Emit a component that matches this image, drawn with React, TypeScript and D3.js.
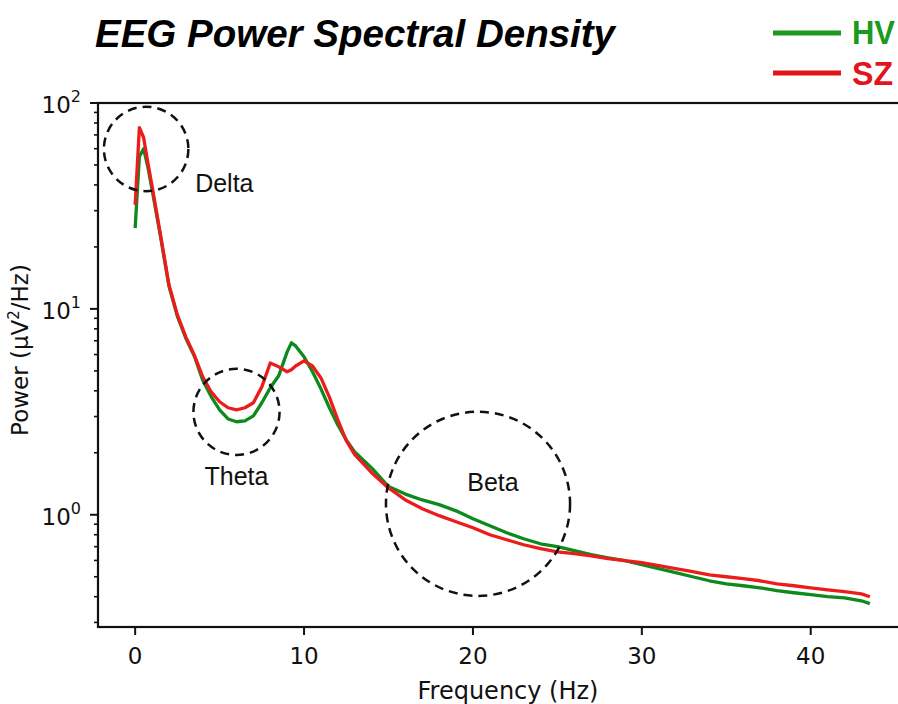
import * as d3 from "d3";

// frequency bins (Hz)
const freqs = [
  0, 0.25, 0.5, 0.75, 1, 1.5, 2, 2.5, 3, 3.5, 4, 4.5, 5, 5.5, 6, 6.5, 7, 7.5, 8, 8.5, 9, 9.25, 9.5, 10,
  10.5, 11, 11.5, 12, 12.5, 13, 14, 15, 16, 17, 18, 19, 20, 21, 22, 23, 24, 25, 26, 27, 28, 29, 30,
  31, 32, 33, 34, 35, 36, 37, 38, 39, 40, 41, 42, 43, 43.5,
];

// healthy volunteers
const hvPower = [
  24.7, 55, 60, 49, 38, 22.5, 12.9, 9.2, 7.2, 5.9, 4.5, 3.75, 3.23, 2.92, 2.83, 2.86, 3.02, 3.5, 4.14,
  4.73, 6.18, 6.84, 6.61, 5.85, 4.95, 4.09, 3.31, 2.73, 2.31, 2.02, 1.69, 1.37, 1.26, 1.18, 1.12,
  1.045, 0.956, 0.884, 0.818, 0.765, 0.723, 0.7, 0.669, 0.64, 0.618, 0.598, 0.572, 0.547, 0.523, 0.5,
  0.478, 0.462, 0.452, 0.442, 0.428, 0.418, 0.409, 0.4, 0.395, 0.382, 0.37,
];

// schizophrenia patients
const szPower = [
  32, 76, 68, 51.4, 39.5, 22.9, 13.1, 9.35, 7.31, 5.98, 4.68, 3.95, 3.54, 3.31, 3.23, 3.31, 3.5, 4.18,
  5.46, 5.23, 4.95, 5.06, 5.28, 5.59, 5.28, 4.62, 3.73, 2.89, 2.29, 1.96, 1.6, 1.35, 1.18, 1.07, 0.99,
  0.925, 0.865, 0.8, 0.756, 0.715, 0.684, 0.661, 0.647, 0.632, 0.612, 0.598, 0.585, 0.566, 0.547,
  0.529, 0.511, 0.5, 0.489, 0.478, 0.462, 0.452, 0.442, 0.432, 0.423, 0.413, 0.4,
];

const xTicks = [0, 10, 20, 30, 40];
const yTickExponents = [0, 1, 2];

// dashed rings around the frequency bands
const bandNames = ["Delta", "Theta", "Beta"];
const bandFreqs = [0.65, 6, 20.3];
const bandPowers = [59.8, 3.16, 1.13];
const bandRadiiHz = [2.5, 2.55, 5.45];

const seriesNames = ["HV", "SZ"];
const lineColors = ["#0c8a1c", "#ec1c1c"];
const legendColors = ["#1a9a1e", "#e3141c"];

export default function App() {
  const width = 898;
  const height = 704;

  const x = d3.scaleLinear().domain([-2.2, 45.7]).range([98, 907]);
  const y = d3.scaleLog().domain([0.285, 100]).range([627, 103]);

  const line = d3
    .line<number>()
    .x((_, i) => x(freqs[i]))
    .y((d) => y(d));

  // minor ticks on the log axis
  const minorTicks: number[] = [];
  [0.1, 1, 10].forEach((dec) => {
    for (let m = 2; m <= 9; m++) {
      const v = dec * m;
      if (v >= y.domain()[0] && v <= y.domain()[1]) minorTicks.push(v);
    }
  });

  const tickFont = "DejaVu Sans, sans-serif";
  const labelFont = "Liberation Sans, Arial, sans-serif";

  return (
    <div style={{ position: "absolute", left: 0, top: 0 }}>
      <svg width={width} height={height} style={{ display: "block", background: "#fff" }}>
        {/* title */}
        <text
          x={95}
          y={47}
          fontFamily={labelFont}
          fontWeight="bold"
          fontStyle="italic"
          fontSize={38}
          textLength={520}
          lengthAdjust="spacingAndGlyphs"
          fill="#000"
        >
          EEG Power Spectral Density
        </text>

        {/* legend */}
        {seriesNames.map((name, i) => (
          <g key={name}>
            <line x1={773} x2={841} y1={33 + i * 40} y2={33 + i * 40} stroke={legendColors[i]} strokeWidth={5} />
            <text
              x={852}
              y={44 + i * 41}
              fontFamily={labelFont}
              fontWeight="bold"
              fontSize={33}
              textLength={i === 0 ? 43 : 41}
              lengthAdjust="spacingAndGlyphs"
              fill={legendColors[i]}
            >
              {name}
            </text>
          </g>
        ))}

        {/* data lines */}
        <path d={line(hvPower) ?? ""} fill="none" stroke={lineColors[0]} strokeWidth={3.3} strokeLinejoin="round" />
        <path d={line(szPower) ?? ""} fill="none" stroke={lineColors[1]} strokeWidth={3.3} strokeLinejoin="round" />

        {/* band rings */}
        {bandNames.map((name, i) => {
          const cx = x(bandFreqs[i]);
          const cy = y(bandPowers[i]);
          const r = x(bandFreqs[i] + bandRadiiHz[i]) - cx;
          return (
            <circle
              key={name}
              cx={cx}
              cy={cy}
              r={r}
              fill="none"
              stroke="#111"
              strokeWidth={2.5}
              strokeDasharray="9 6"
            />
          );
        })}
        <text x={x(bandFreqs[0]) + 49} y={y(bandPowers[0]) + 43} fontFamily={labelFont} fontSize={25} fill="#111">
          {bandNames[0]}
        </text>
        <text
          x={x(bandFreqs[1])}
          y={y(bandPowers[1]) + 73}
          textAnchor="middle"
          fontFamily={labelFont}
          fontSize={25}
          fill="#111"
        >
          {bandNames[1]}
        </text>
        <text
          x={x(bandFreqs[2]) + 15}
          y={y(bandPowers[2]) - 13}
          textAnchor="middle"
          fontFamily={labelFont}
          fontSize={25}
          fill="#111"
        >
          {bandNames[2]}
        </text>

        {/* axes frame */}
        <rect x={98} y={103} width={907 - 98} height={627 - 103} fill="none" stroke="#111" strokeWidth={2.2} />

        {/* x ticks */}
        {xTicks.map((t) => (
          <g key={t}>
            <line x1={x(t)} x2={x(t)} y1={627} y2={635} stroke="#111" strokeWidth={2} />
            <text x={x(t)} y={664} textAnchor="middle" fontFamily={tickFont} fontSize={23} fill="#111">
              {t}
            </text>
          </g>
        ))}

        {/* y ticks */}
        {minorTicks.map((v) => (
          <line key={v} x1={94} x2={98} y1={y(v)} y2={y(v)} stroke="#111" strokeWidth={1.6} />
        ))}
        {yTickExponents.map((e) => (
          <g key={e}>
            <line x1={90} x2={98} y1={y(10 ** e)} y2={y(10 ** e)} stroke="#111" strokeWidth={2} />
            <text x={81} y={y(10 ** e) + 10} textAnchor="end" fontFamily={tickFont} fontSize={23} fill="#111">
              10
              <tspan fontSize={16} dy={-11}>
                {e}
              </tspan>
            </text>
          </g>
        ))}

        {/* axis labels */}
        <text x={508} y={699} textAnchor="middle" fontFamily={tickFont} fontSize={24} fill="#111">
          Frequency (Hz)
        </text>
        <text
          transform="translate(28,350) rotate(-90)"
          textAnchor="middle"
          fontFamily={tickFont}
          fontSize={23}
          fill="#111"
        >
          Power (μV
          <tspan fontSize={15} dy={-9}>
            2
          </tspan>
          <tspan dy={9}>/Hz)</tspan>
        </text>
      </svg>
    </div>
  );
}
